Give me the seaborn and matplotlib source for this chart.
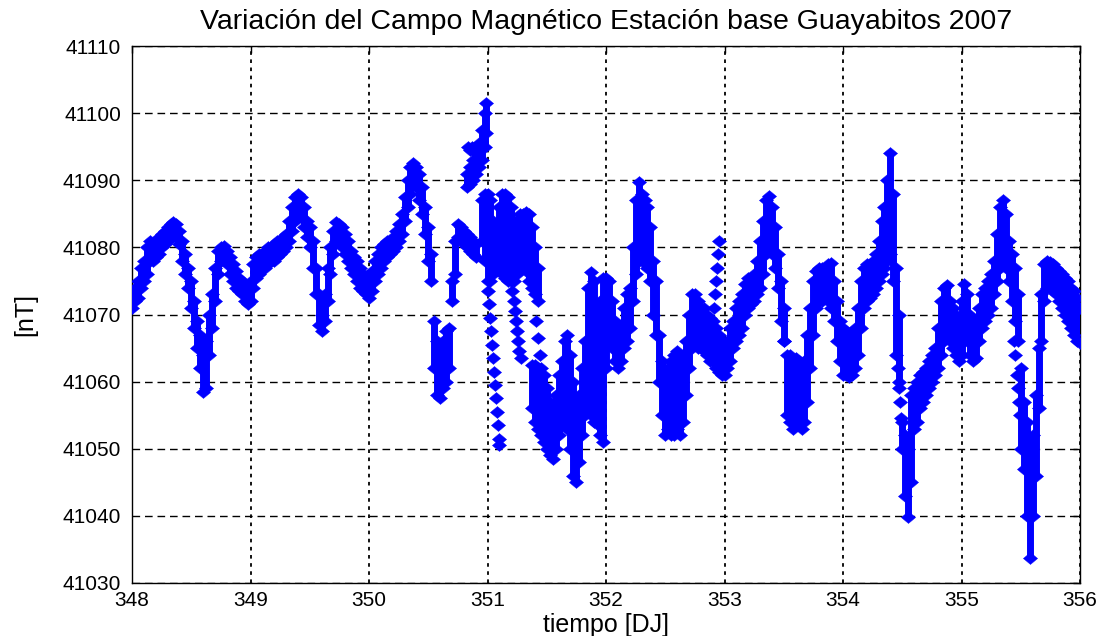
import numpy as np
import pandas as pd
import matplotlib
matplotlib.use("Agg")
import matplotlib.pyplot as plt
from matplotlib.path import Path
import seaborn as sns

# ---------------- data ----------------
title = "Variación del Campo Magnético Estación base Guayabitos 2007"
xlabel = "tiempo [DJ]"
ylabel = "[nT]"
xticks = [348, 349, 350, 351, 352, 353, 354, 355, 356]
yticks = [41030, 41040, 41050, 41060, 41070, 41080, 41090, 41100, 41110]

step_dj = 0.025          # sampling step of the band readings (days)
day_start = [348, 349, 350, 351, 352, 353, 354, 355]

# lower / upper edge of the band of points, one value every 0.025 day
lo_348 = [41071, 41072, 41072.5, 41074, 41075, 41076, 41078, 41078, 41078.5, 41079,
          41080, 41080.5, 41081, 41081.5, 41082, 41081.5, 41080.5, 41078, 41076, 41074,
          41071, 41068, 41065, 41062, 41058.5, 41059, 41064, 41068, 41072, 41076,
          41078, 41078.5, 41077.5, 41076, 41075, 41074, 41073.5, 41073, 41072, 41071.5]
hi_348 = [41073, 41074, 41075, 41077, 41078, 41080, 41081, 41080.5, 41081, 41081.5,
          41082, 41082.5, 41083, 41083.5, 41083.8, 41083.5, 41082.5, 41081, 41079, 41077,
          41075, 41072, 41069, 41067, 41064, 41066, 41070, 41073, 41077, 41079.5,
          41080, 41080.2, 41079.5, 41078.5, 41077.5, 41076.5, 41075.5, 41075, 41074.5, 41074]

lo_349 = [41072, 41074, 41075.5, 41076, 41077, 41077, 41077.5, 41078, 41078, 41078.5,
          41079, 41079.5, 41080, 41081, 41082.5, 41084, 41085, 41084.5, 41083, 41081.5,
          41080, 41077, 41073, 41068.5, 41067.5, 41069, 41072, 41076, 41079, 41081,
          41081, 41080, 41079, 41078, 41077, 41076, 41075, 41074, 41073.5, 41073]
hi_349 = [41075, 41077.5, 41078.5, 41079, 41079, 41079.5, 41080, 41080, 41080.5, 41081,
          41081, 41081.5, 41082, 41084, 41086, 41087.5, 41088, 41087.5, 41086, 41084,
          41083, 41081, 41077, 41073, 41070, 41073, 41077, 41080, 41082.5, 41083.8,
          41083.5, 41083, 41082, 41081, 41079.5, 41078.5, 41078, 41077, 41076, 41075.5]

lo_350 = [41072.5, 41073.5, 41075, 41076, 41077, 41078, 41078.5, 41079, 41079.5, 41080,
          41081, 41082, 41084, 41086, 41088, 41089.5, 41089, 41087, 41085, 41082,
          41078, 41075, 41062, 41058, 41057.6, 41059, 41060, 41062, 41072, 41076,
          41081.5, 41081, 41080.5, 41080, 41079.5, 41079, 41078.5, np.nan, 41081, 41078]
hi_350 = [41075.5, 41076.5, 41078, 41079, 41080, 41080.5, 41081, 41081, 41081.5, 41082.5,
          41083.5, 41085, 41087.5, 41090, 41092, 41092.5, 41092, 41091, 41089, 41086,
          41083, 41079, 41069, 41066, 41064, 41066, 41067.5, 41068, 41075, 41081,
          41083.5, 41083, 41082.5, 41082, 41081.5, 41081, 41080.5, np.nan, 41087, 41088]

lo_351 = [41075, 41075, 41076, 41077, 41077, 41076, 41075.5, 41075, 41075, 41075,
          41076, 41077, 41077, 41076.5, 41075, 41074, 41073, 41072, 41052, 41051,
          41050, 41049, 41048.5, 41050, 41052, 41054, 41054, 41053, 41050, 41046,
          41045, 41048, 41052, 41055, 41056, 41055, 41054, 41053.7, 41052, 41051]
hi_351 = [41088, 41087, 41084, 41082, 41086, 41088, 41088, 41087.5, 41086, 41084,
          41084, 41085, 41085, 41085.3, 41085, 41083, 41080, 41077, 41062, 41061,
          41059, 41057, 41056, 41058, 41061, 41063, 41066, 41067, 41064, 41060,
          41056, 41058, 41062, 41066, 41074, 41076.4, 41075, 41070, 41072, 41075.5]

lo_352 = [41062, 41066, 41065, 41063, 41062, 41063, 41065, 41066, 41068, 41072,
          41076, 41078, 41078, 41078, 41077, 41075, 41070, 41067, 41060, 41055,
          41052, 41053, 41052, 41052, 41053, 41052, 41054, 41058, 41062, 41065,
          41066, 41065, 41065, 41064.5, 41064, 41063, 41063, 41062, 41061.5, 41061]
hi_352 = [41075.5, 41075, 41072, 41069, 41068, 41068.5, 41071, 41073, 41074, 41080,
          41087, 41089.8, 41088, 41087, 41086, 41083, 41078, 41075, 41067, 41063,
          41060, 41062, 41063, 41064, 41064.5, 41063, 41064, 41066, 41070, 41073,
          41073, 41072, 41071, 41071, 41070, 41069.5, 41069, 41068, 41067, 41066]

lo_353 = [41061, 41062, 41063, 41065, 41066, 41067, 41068, 41070, 41071, 41071.5,
          41072, 41073, 41074, 41076, 41079, 41081, 41079, 41077, 41074, 41069,
          41066, 41055, 41054, 41053, 41054, 41053.5, 41053, 41054, 41057, 41062,
          41067, 41071, 41072, 41072, 41072.5, 41072, 41071, 41069, 41066, 41063]
hi_353 = [41065, 41066, 41068, 41069, 41071, 41072, 41073, 41074.5, 41075.5, 41075.5,
          41076, 41078, 41081, 41084, 41087, 41087.7, 41086, 41083, 41079, 41075,
          41071, 41064, 41064, 41063, 41063.5, 41063, 41062, 41063, 41067, 41071,
          41075, 41076.5, 41077, 41077, 41077, 41077.5, 41077.7, 41075, 41072, 41069]

lo_354 = [41061, 41061, 41060.7, 41061, 41062, 41064, 41068, 41071, 41072, 41072.5,
          41073, 41074, 41075, 41076, 41077, 41078, 41079, 41075, 41064, 41060,
          41050, 41043, 41039.8, 41045, 41053, 41054, 41056, 41057, 41058, 41059,
          41060, 41061, 41062, 41064, 41066, 41067, 41066, 41065, 41064, 41063]
hi_354 = [41068, 41067.5, 41067, 41067, 41068, 41071, 41075, 41077, 41077.5, 41077.5,
          41078, 41079, 41081, 41084, 41086, 41090, 41094, 41088, 41077, 41070,
          41054, 41052, 41050, 41058, 41059, 41060, 41061, 41061.5, 41062, 41063,
          41064, 41065, 41068, 41072, 41074, 41074.4, 41072, 41071, 41070, 41068]

lo_355 = [41064, 41066, 41066, 41064, 41063, 41063.5, 41066, 41068, 41069, 41070,
          41071, 41073, 41075, 41077, 41078, 41077, 41075, 41072, 41069, 41066,
          41050, 41047, 41040, 41033.7, 41040, 41046, 41056, 41066, 41072, 41074,
          41074, 41073.5, 41073, 41072, 41071, 41070, 41069, 41068, 41067, 41066, 41065.7]
hi_355 = [41072, 41074.5, 41073, 41070, 41069, 41069, 41071, 41073, 41074, 41075,
          41076, 41078, 41082, 41086, 41087, 41085, 41081, 41079, 41077, 41073,
          41062, 41057, 41054, 41050, 41052, 41058, 41065, 41073, 41077.5, 41078,
          41077.8, 41077.5, 41077, 41076.5, 41076, 41075.5, 41075, 41074, 41073.5, 41072.5, 41071]

# second branch of points where two bands overlap in time
branch_t = [350.825, 350.85, 350.875, 350.9, 350.925, 350.95, 350.975, 350.99,
            351.375, 351.4, 351.425]
branch_lo = [41089, 41089.5, 41090, 41091, 41092, 41093, 41095, 41097,
             41056, 41054, 41053]
branch_hi = [41091, 41092, 41093, 41094, 41095.5, 41097.5, 41100, 41101.5,
             41062.5, 41062.5, 41062]

# isolated points (dotted runs of single markers)
iso_t = [350.835, 350.85, 350.865,
         351.005, 351.013, 351.021, 351.029, 351.037, 351.045, 351.053, 351.061,
         351.069, 351.077, 351.085, 351.093, 351.1,
         351.21, 351.22, 351.23, 351.24, 351.25, 351.26, 351.27, 351.28,
         351.41, 351.43, 351.44,
         352.915, 352.922, 352.93, 352.937, 352.944, 352.95,
         353.505,
         354.465, 354.475, 354.482, 354.49,
         355.44, 355.455, 355.465, 355.475, 355.485, 355.49]
iso_v = [41095, 41094.5, 41095,
         41073.5, 41071.5, 41069.5, 41067.5, 41065.5, 41063.5, 41061.5, 41059.5,
         41057.5, 41055.5, 41053.5, 41051.5, 41050.6,
         41073.5, 41072, 41070.5, 41069, 41067.5, 41066, 41064.5, 41063.5,
         41069, 41066.5, 41064,
         41071, 41073, 41075, 41077, 41079, 41081,
         41066,
         41062, 41059, 41057, 41054.6,
         41066, 41064, 41061, 41059, 41057, 41055]

# ---------------- assemble tables ----------------
lows = [lo_348, lo_349, lo_350, lo_351, lo_352, lo_353, lo_354, lo_355]
highs = [hi_348, hi_349, hi_350, hi_351, hi_352, hi_353, hi_354, hi_355]
rows = []
for d, lo, hi in zip(day_start, lows, highs):
    for i, (a, b) in enumerate(zip(lo, hi)):
        rows.append((d + i * step_dj, a, b))
band = pd.DataFrame(rows, columns=["t", "lo", "hi"]).dropna()
branch = pd.DataFrame({"t": branch_t, "lo": branch_lo, "hi": branch_hi})
iso = pd.DataFrame({"t": iso_t, "v": iso_v})

# ---------------- style ----------------
sns.set_style("white")
plt.rcParams["font.family"] = ["Liberation Sans", "DejaVu Sans"]
plt.rcParams["text.color"] = "black"
plt.rcParams["axes.labelcolor"] = "black"
BLUE = "#0000ff"
diamond = Path([(-0.5, 0.0), (0.0, 0.42), (0.5, 0.0), (0.0, -0.42), (-0.5, 0.0)],
               [Path.MOVETO, Path.LINETO, Path.LINETO, Path.LINETO, Path.CLOSEPOLY])
MSIZE = 105

fig = plt.figure(figsize=(11.03, 6.36), dpi=100)
ax = fig.add_axes([132 / 1103, 1 - 583 / 636, (1080 - 132) / 1103, (583 - 46) / 636])

for tab in (band, branch):
    ax.vlines(tab["t"], tab["lo"], tab["hi"], colors=BLUE, linewidth=5.0, zorder=3)
    for col in ("lo", "hi"):
        sns.scatterplot(x=tab["t"], y=tab[col], ax=ax, marker=diamond, s=MSIZE,
                        color=BLUE, edgecolor=BLUE, linewidth=0.3, legend=False, zorder=4)
sns.scatterplot(x=iso["t"], y=iso["v"], ax=ax, marker=diamond, s=MSIZE,
                color=BLUE, edgecolor=BLUE, linewidth=0.3, legend=False, zorder=4)

ax.set_xlim(xticks[0], xticks[-1])
ax.set_ylim(yticks[0], yticks[-1])
ax.set_xticks(xticks)
ax.set_yticks(yticks)
ax.set_xticklabels([str(v) for v in xticks])
ax.set_yticklabels([str(v) for v in yticks])

ax.set_axisbelow(True)
ax.yaxis.grid(True, color="black", linestyle=(0, (5.5, 3.5)), linewidth=1.0)
ax.xaxis.grid(True, color="black", linestyle=(0, (2, 2.5)), linewidth=1.3)
for sp in ax.spines.values():
    sp.set_color("black")
    sp.set_linewidth(1.0)
ax.tick_params(axis="both", which="major", direction="in", length=5, width=1,
               top=True, right=True, labelsize=15, colors="black")
ax.tick_params(axis="x", pad=6)
ax.tick_params(axis="y", pad=8)

ax.set_title(title, fontsize=20.5, pad=12)
ax.set_xlabel(xlabel, fontsize=18, labelpad=2)
ax.set_ylabel(ylabel, fontsize=18, labelpad=18)

fig.savefig("out.png", dpi=100, facecolor="white")
